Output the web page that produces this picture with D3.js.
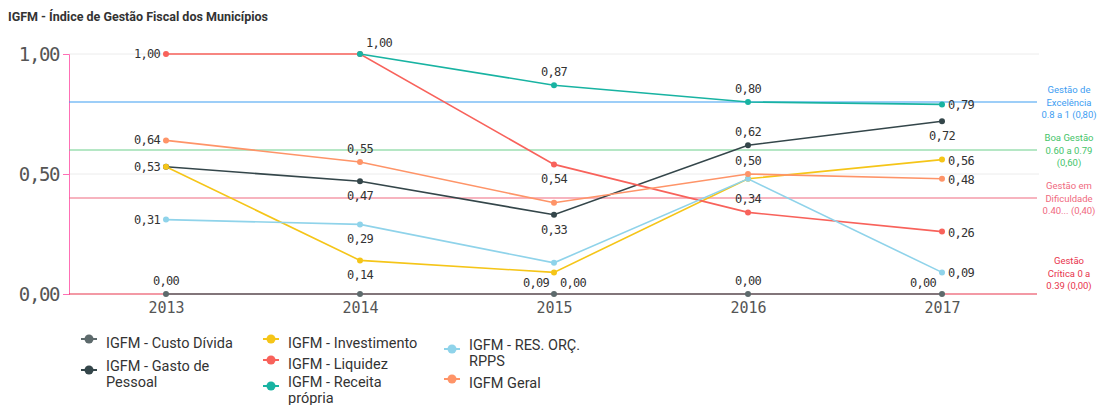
<!DOCTYPE html>
<html>
<head>
<meta charset="utf-8">
<script src="https://cdn.jsdelivr.net/npm/d3@7"></script>
<style>
  body { margin: 0; background: #fff; }
  svg { display: block; }
</style>
</head>
<body>
<div id="chart"></div>
<script>
// Data
const years = ["2013", "2014", "2015", "2016", "2017"];
const seriesNames = [
    "IGFM - Custo Dívida",
    "IGFM - Gasto de Pessoal",
    "IGFM - Investimento",
    "IGFM - Liquidez",
    "IGFM - Receita própria",
    "IGFM - RES. ORÇ. RPPS",
    "IGFM Geral"
];
const custoDivida = [0.00, 0.00, 0.00, 0.00, 0.00];
const gastoPessoal = [0.53, 0.47, 0.33, 0.62, 0.72];
const investimento = [0.53, 0.14, 0.09, 0.48, 0.56];
const liquidez = [1.00, 1.00, 0.54, 0.34, 0.26];
const receitaPropria = [null, 1.00, 0.87, 0.80, 0.79];
const resOrcRpps = [0.31, 0.29, 0.13, 0.48, 0.09];
const igfmGeral = [0.64, 0.55, 0.38, 0.50, 0.48];
const seriesValues = [custoDivida, gastoPessoal, investimento, liquidez, receitaPropria, resOrcRpps, igfmGeral];

const yTicks = [0, 0.5, 1];
const refLines = [
    { value: 0.80, lines: ["Gestão de", "Excelência", "0.8 a 1 (0,80)"] },
    { value: 0.60, lines: ["Boa Gestão", "0.60 a 0.79", "(0,60)"] },
    { value: 0.40, lines: ["Gestão em", "Dificuldade", "0.40... (0,40)"] },
    { value: 0.00, lines: ["Gestão", "Crítica 0 a", "0.39 (0,00)"] }
];

// Styles
const colors = ["#5d6a6c", "#34464a", "#f5c518", "#f8625b", "#18b3a2", "#8fd3ea", "#fe9468"];
const refColors = ["#3d9df2", "#6dd08c", "#f06a80", "#e8344c"];
const refTextColors = ["#3d9df2", "#45c46a", "#f06a80", "#e8344c"];

// where each value label sits (null = hidden)
const labelPos = [
    ["above", null, "aboveRight", "above", "aboveLeft"],
    ["left", "below", "below", "above", "below"],
    [null, "below", "belowLeft", null, "right"],
    ["left", null, "below", "above", "right"],
    [null, "aboveRight", "above", "above", "right"],
    ["left", "below", null, null, "right"],
    ["left", "above", null, "above", "right"]
];
const offsets = {
    above:      { dx: 0,   dy: -9,  anchor: "middle" },
    below:      { dx: 0,   dy: 19,  anchor: "middle" },
    left:       { dx: -6,  dy: 4,   anchor: "end" },
    right:      { dx: 6,   dy: 5,   anchor: "start" },
    aboveRight: { dx: 6,   dy: -7,  anchor: "start" },
    aboveLeft:  { dx: -6,  dy: -7,  anchor: "end" },
    belowLeft:  { dx: -5,  dy: 15,  anchor: "end" }
};

const width = 1097, height = 405;
const margin = { top: 54, left: 69, right: 58 };
const plotBottom = 294;
const mono = "'DejaVu Sans Mono', monospace";
const sans = "Roboto, 'Noto Sans', sans-serif";

const fmt = v => d3.format(".2f")(v).replace(".", ",");

const svg = d3.select("#chart")
    .append("svg")
    .attr("width", width)
    .attr("height", height);

// Title
svg.append("text")
    .attr("x", 8)
    .attr("y", 21)
    .attr("font-family", sans)
    .attr("font-weight", "bold")
    .attr("font-size", 12.5)
    .attr("fill", "#333")
    .text("IGFM - Índice de Gestão Fiscal dos Municípios");

// Scales
const x = d3.scalePoint()
    .domain(years)
    .range([margin.left, width - margin.right])
    .padding(0.5);

const y = d3.scaleLinear()
    .domain([0, 1])
    .range([plotBottom, margin.top]);

// Gridlines
svg.append("g")
    .selectAll("line")
    .data(yTicks.filter(d => d > 0))
    .enter()
    .append("line")
    .attr("x1", margin.left)
    .attr("x2", width - margin.right)
    .attr("y1", d => y(d))
    .attr("y2", d => y(d))
    .attr("stroke", "#ececec");

// Y axis
const yAxis = svg.append("g")
    .attr("transform", `translate(${margin.left},0)`)
    .call(d3.axisLeft(y).tickValues(yTicks).tickSize(6).tickPadding(4).tickFormat(fmt));
yAxis.select(".domain").attr("stroke", "#ff6fb5");
yAxis.selectAll(".tick line").attr("stroke", "#ff6fb5");
yAxis.selectAll(".tick text")
    .attr("font-family", mono)
    .attr("font-size", 19)
    .attr("letter-spacing", -1.4)
    .attr("fill", "#555");

// X axis labels
const xAxis = svg.append("g")
    .attr("transform", `translate(0,${plotBottom})`)
    .call(d3.axisBottom(x).tickSize(0).tickPadding(8));
xAxis.select(".domain").remove();
xAxis.selectAll(".tick text")
    .attr("font-family", mono)
    .attr("font-size", 15)
    .attr("fill", "#555");

// Reference lines
refLines.forEach((r, i) => {
    svg.append("line")
        .attr("x1", margin.left)
        .attr("x2", width - margin.right - 2)
        .attr("y1", y(r.value))
        .attr("y2", y(r.value))
        .attr("stroke", refColors[i])
        .attr("stroke-width", 1.2);

    const firstY = r.value === 0 ? y(r.value) - 30 : y(r.value) - 9;
    const t = svg.append("text")
        .attr("x", 1069)
        .attr("y", firstY)
        .attr("text-anchor", "middle")
        .attr("font-family", sans)
        .attr("font-size", 9.5)
        .attr("fill", refTextColors[i]);
    r.lines.forEach((l, j) => {
        t.append("tspan")
            .attr("x", 1069)
            .attr("dy", j === 0 ? 0 : 12.5)
            .text(l);
    });
});

// Lines
const line = d3.line()
    .defined(d => d.value !== null)
    .x(d => x(d.year))
    .y(d => y(d.value));

const seriesData = seriesNames.map((name, i) => ({
    name: name,
    color: colors[i],
    points: years.map((yr, j) => ({ year: yr, value: seriesValues[i][j], pos: labelPos[i][j] }))
}));

seriesData.forEach(s => {
    svg.append("path")
        .datum(s.points)
        .attr("fill", "none")
        .attr("stroke", s.color)
        .attr("stroke-width", 1.6)
        .attr("d", line);
});

seriesData.forEach(s => {
    svg.append("g")
        .selectAll("circle")
        .data(s.points.filter(d => d.value !== null))
        .enter()
        .append("circle")
        .attr("cx", d => x(d.year))
        .attr("cy", d => y(d.value))
        .attr("r", 3)
        .attr("fill", s.color);
});

// Value labels
seriesData.forEach(s => {
    svg.append("g")
        .selectAll("text")
        .data(s.points.filter(d => d.value !== null && d.pos))
        .enter()
        .append("text")
        .attr("x", d => x(d.year) + offsets[d.pos].dx)
        .attr("y", d => y(d.value) + offsets[d.pos].dy)
        .attr("text-anchor", d => offsets[d.pos].anchor)
        .attr("font-family", mono)
        .attr("font-size", 12)
        .attr("letter-spacing", -0.7)
        .attr("fill", "#333")
        .text(d => fmt(d.value));
});

// Legend
const legendItems = [
    { i: 0, x: 81,  y: 343, lines: ["IGFM - Custo Dívida"] },
    { i: 1, x: 81,  y: 366, lines: ["IGFM - Gasto de", "Pessoal"] },
    { i: 2, x: 263, y: 343, lines: ["IGFM - Investimento"] },
    { i: 3, x: 263, y: 364, lines: ["IGFM - Liquidez"] },
    { i: 4, x: 263, y: 382, lines: ["IGFM - Receita", "própria"] },
    { i: 5, x: 444, y: 345, lines: ["IGFM - RES. ORÇ.", "RPPS"] },
    { i: 6, x: 444, y: 383, lines: ["IGFM Geral"] }
];

const legend = svg.append("g");
legendItems.forEach(item => {
    const my = item.y + (item.lines.length - 1) * 8 - 4;
    legend.append("line")
        .attr("x1", item.x)
        .attr("x2", item.x + 16)
        .attr("y1", my)
        .attr("y2", my)
        .attr("stroke", colors[item.i])
        .attr("stroke-width", 2);
    legend.append("circle")
        .attr("cx", item.x + 8)
        .attr("cy", my)
        .attr("r", 4.5)
        .attr("fill", colors[item.i]);
    const t = legend.append("text")
        .attr("x", item.x + 25)
        .attr("y", item.y + 5)
        .attr("font-family", sans)
        .attr("font-size", 14.5)
        .attr("fill", "#333");
    item.lines.forEach((l, j) => {
        t.append("tspan")
            .attr("x", item.x + 25)
            .attr("dy", j === 0 ? 0 : 15.5)
            .text(l);
    });
});
</script>
</body>
</html>
